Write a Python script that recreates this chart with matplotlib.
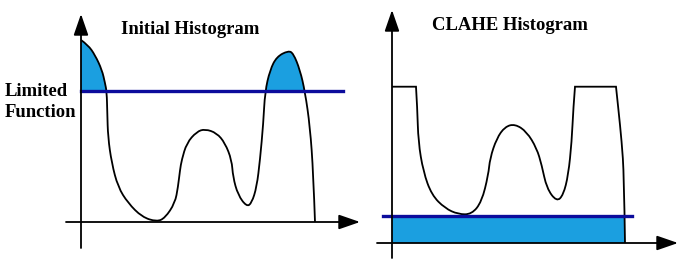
import numpy as np
import matplotlib.pyplot as plt
from matplotlib.path import Path
from matplotlib.patches import PathPatch, Rectangle

# Initial histogram curve (x: intensity, y: count)
init_x = [0, 7, 14, 21, 24, 25.7, 26.3, 27, 30.7, 37, 47, 61, 75.7, 84, 94, 97, 99,
          100.7, 105.7, 115.7, 124, 135.7, 144, 150.7, 152, 157, 165.7, 170.7, 175.7,
          179, 182.3, 184, 189, 195.7, 207.3, 212.3, 219, 224, 229, 232.3, 234]
init_y = [182, 177, 167, 152, 139, 130.3, 109, 85, 59, 35, 19, 5, 0.3, 4, 19, 35, 52,
          62, 79, 90.3, 93, 89, 79, 62, 45, 27, 15.3, 19, 35,
          62, 98.7, 130.3, 152, 165.3, 171.3, 168.7, 152, 130.3, 95.3, 48.7, 0]
clip_limit = 131

# CLAHE histogram curve (clipped tops, redistributed floor)
clahe_x = [0, 24, 25.3, 26.3, 31.3, 39.7, 53, 66.3, 79.7, 89.7, 96.3, 98, 104.7, 113,
           123, 134.7, 144.7, 149.7, 154.7, 164.7, 171.3, 176.3, 179.7, 181.3, 183,
           224, 226.3, 229.7, 232, 233]
clahe_y = [156.3, 156.3, 134.7, 101.3, 71.3, 48, 34.7, 28.7, 28.7, 41.3, 68, 84.7, 104.7, 116.3,
           119, 111.3, 94.7, 78, 54.7, 41.3, 48, 68, 101.3, 134.7, 156.3,
           156.3, 134.7, 101.3, 68, 0]
floor_level = 27

fill_col = '#1b9fe0'
line_col = '#0c0c9c'
font = dict(family='Liberation Serif', weight='bold', size=13.4)


def smooth(xs, ys, corners=()):
    # quadratic bezier through the read points, split at sharp corners
    pts = np.column_stack([xs, ys])
    cuts = [0] + list(corners) + [len(pts) - 1]
    verts, codes = [pts[0]], [Path.MOVETO]
    for a, b in zip(cuts[:-1], cuts[1:]):
        seg = pts[a:b + 1]
        if len(seg) < 3:
            verts.append(seg[-1]); codes.append(Path.LINETO)
            continue
        for i in range(1, len(seg) - 1):
            end = seg[-1] if i == len(seg) - 2 else (seg[i] + seg[i + 1]) / 2
            verts += [seg[i], end]
            codes += [Path.CURVE3, Path.CURVE3]
    return verts, codes


fig = plt.figure(figsize=(6.86, 2.69), dpi=100)


def draw_axes(ax, x0, x1, y0, y1):
    arrow = dict(arrowstyle='-|>,head_length=1.3,head_width=0.45', lw=1.3,
                 color='black', shrinkA=0, shrinkB=0)
    ax.annotate('', xy=(x1, 0), xytext=(x0, 0), arrowprops=arrow)
    ax.annotate('', xy=(0, y1), xytext=(0, y0), arrowprops=arrow)
    ax.axis('off')


# left panel
ax1 = fig.add_axes([61 / 686, 17 / 269, 310 / 686, 245 / 269])
ax1.set_xlim(-20, 290)
ax1.set_ylim(-30, 215)
v, c = smooth(init_x, init_y)
area = PathPatch(Path(v + [(0, 0), (0, 0)], c + [Path.LINETO, Path.CLOSEPOLY]),
                 facecolor=fill_col, lw=0)
ax1.add_patch(area)
area.set_clip_path(Rectangle((0, clip_limit), 300, 100, transform=ax1.transData))
ax1.add_patch(PathPatch(Path(v, c), fill=False, edgecolor='black', lw=1.3))
ax1.plot([0, 262], [clip_limit, clip_limit], color=line_col, lw=2.4)
draw_axes(ax1, -15, 279, -26, 208)
ax1.text(109, 192, 'Initial Histogram', ha='center', va='center', **font)
fig.text(5 / 686, 167 / 269, 'Limited\nFunction', ha='left', va='center',
         linespacing=1.25, **font)

# right panel
ax2 = fig.add_axes([372 / 686, 6 / 269, 312 / 686, 260 / 269])
ax2.set_xlim(-20, 292)
ax2.set_ylim(-20, 240)
ax2.fill_between([0, clahe_x[-1]], 0, floor_level, color=fill_col, lw=0)
v, c = smooth(clahe_x, clahe_y, corners=(1, 24, 25))
ax2.add_patch(PathPatch(Path(v, c), fill=False, edgecolor='black', lw=1.3))
ax2.plot([-9, 240], [floor_level, floor_level], color=line_col, lw=2.4)
draw_axes(ax2, -15, 286, -15, 233)
ax2.text(118, 218, 'CLAHE Histogram', ha='center', va='center', **font)

plt.savefig('out.png', dpi=100)
